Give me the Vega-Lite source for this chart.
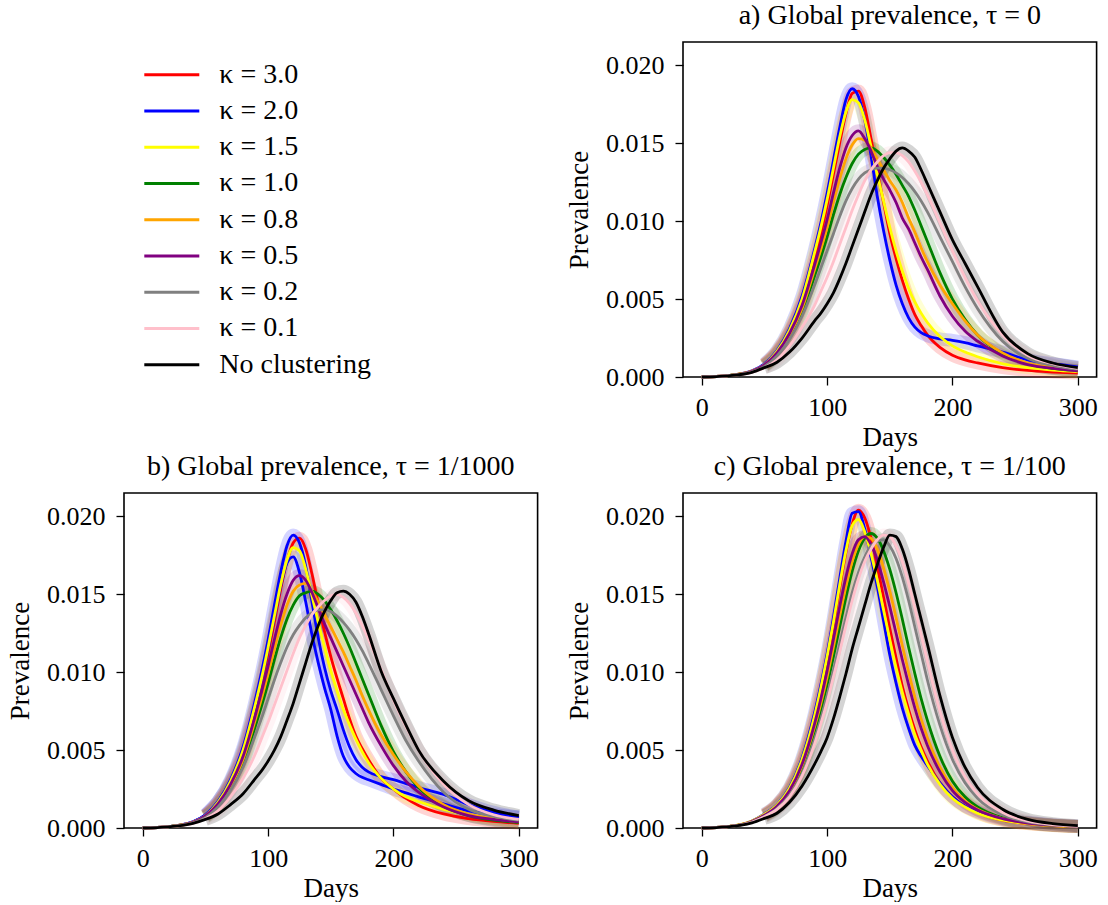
{
"$schema": "https://vega.github.io/schema/vega-lite/v6.json",
"background": "white",
"padding": {"left": 5, "top": 1, "right": 0, "bottom": 0},
"config": {
  "font": "Liberation Serif",
  "view": {"stroke": "black", "strokeWidth": 1.6},
  "axis": {"domain": false, "grid": false, "tickColor": "black", "tickSize": 8, "tickWidth": 1.3, "labelFont": "Liberation Serif", "labelFontSize": 26, "labelColor": "black", "titleFont": "Liberation Serif", "titleFontSize": 27, "titleFontWeight": "normal", "titleColor": "black"},
  "title": {"font": "Liberation Serif", "fontSize": 28, "fontWeight": "normal", "color": "black", "baseline": "alphabetic", "offset": 12}
},
"bounds": "flush",
"columns": 2,
"spacing": {"row": 116, "column": 145},
"datasets": {
"leg": [
{"s":"3.0","lab":"κ = 3.0"},{"s":"2.0","lab":"κ = 2.0"},{"s":"1.5","lab":"κ = 1.5"},{"s":"1.0","lab":"κ = 1.0"},{"s":"0.8","lab":"κ = 0.8"},{"s":"0.5","lab":"κ = 0.5"},{"s":"0.2","lab":"κ = 0.2"},{"s":"0.1","lab":"κ = 0.1"},{"s":"none","lab":"No clustering"}
],
"prev": [
{"p":"a","s":"3.0","d":0,"v":0},{"p":"a","s":"3.0","d":20,"v":0.00008},{"p":"a","s":"3.0","d":40,"v":0.00038},{"p":"a","s":"3.0","d":50,"v":0.0008},{"p":"a","s":"3.0","d":60,"v":0.0016},{"p":"a","s":"3.0","d":70,"v":0.0029},{"p":"a","s":"3.0","d":80,"v":0.0048},{"p":"a","s":"3.0","d":90,"v":0.0076},{"p":"a","s":"3.0","d":95,"v":0.0092},{"p":"a","s":"3.0","d":100,"v":0.011},{"p":"a","s":"3.0","d":105,"v":0.013},{"p":"a","s":"3.0","d":110,"v":0.015},{"p":"a","s":"3.0","d":115,"v":0.0169},{"p":"a","s":"3.0","d":120,"v":0.0182},{"p":"a","s":"3.0","d":125,"v":0.01835},{"p":"a","s":"3.0","d":130,"v":0.0173},{"p":"a","s":"3.0","d":135,"v":0.0153},{"p":"a","s":"3.0","d":140,"v":0.0132},{"p":"a","s":"3.0","d":145,"v":0.0112},{"p":"a","s":"3.0","d":150,"v":0.0092},{"p":"a","s":"3.0","d":155,"v":0.0076},{"p":"a","s":"3.0","d":160,"v":0.0062},{"p":"a","s":"3.0","d":165,"v":0.005},{"p":"a","s":"3.0","d":170,"v":0.004},{"p":"a","s":"3.0","d":175,"v":0.0033},{"p":"a","s":"3.0","d":180,"v":0.0027},{"p":"a","s":"3.0","d":190,"v":0.0019},{"p":"a","s":"3.0","d":200,"v":0.0014},{"p":"a","s":"3.0","d":210,"v":0.0011},{"p":"a","s":"3.0","d":220,"v":0.0009},{"p":"a","s":"3.0","d":240,"v":0.0006},{"p":"a","s":"3.0","d":260,"v":0.00042},{"p":"a","s":"3.0","d":280,"v":0.00032},{"p":"a","s":"3.0","d":300,"v":0.00025},
{"p":"a","s":"2.0","d":0,"v":0},{"p":"a","s":"2.0","d":20,"v":0.00008},{"p":"a","s":"2.0","d":40,"v":0.0004},{"p":"a","s":"2.0","d":50,"v":0.00085},{"p":"a","s":"2.0","d":60,"v":0.0017},{"p":"a","s":"2.0","d":70,"v":0.0031},{"p":"a","s":"2.0","d":80,"v":0.0052},{"p":"a","s":"2.0","d":90,"v":0.0082},{"p":"a","s":"2.0","d":95,"v":0.0099},{"p":"a","s":"2.0","d":100,"v":0.0118},{"p":"a","s":"2.0","d":105,"v":0.0139},{"p":"a","s":"2.0","d":110,"v":0.016},{"p":"a","s":"2.0","d":115,"v":0.0178},{"p":"a","s":"2.0","d":120,"v":0.0185},{"p":"a","s":"2.0","d":125,"v":0.018},{"p":"a","s":"2.0","d":130,"v":0.0165},{"p":"a","s":"2.0","d":135,"v":0.0142},{"p":"a","s":"2.0","d":140,"v":0.0116},{"p":"a","s":"2.0","d":145,"v":0.0094},{"p":"a","s":"2.0","d":150,"v":0.0075},{"p":"a","s":"2.0","d":155,"v":0.0059},{"p":"a","s":"2.0","d":160,"v":0.0047},{"p":"a","s":"2.0","d":165,"v":0.0038},{"p":"a","s":"2.0","d":170,"v":0.0032},{"p":"a","s":"2.0","d":175,"v":0.00285},{"p":"a","s":"2.0","d":180,"v":0.00265},{"p":"a","s":"2.0","d":190,"v":0.00245},{"p":"a","s":"2.0","d":200,"v":0.00235},{"p":"a","s":"2.0","d":210,"v":0.0022},{"p":"a","s":"2.0","d":220,"v":0.002},{"p":"a","s":"2.0","d":240,"v":0.0016},{"p":"a","s":"2.0","d":260,"v":0.0011},{"p":"a","s":"2.0","d":280,"v":0.00085},{"p":"a","s":"2.0","d":300,"v":0.00065},
{"p":"a","s":"1.5","d":0,"v":0},{"p":"a","s":"1.5","d":20,"v":0.00008},{"p":"a","s":"1.5","d":40,"v":0.00038},{"p":"a","s":"1.5","d":50,"v":0.0008},{"p":"a","s":"1.5","d":60,"v":0.00165},{"p":"a","s":"1.5","d":70,"v":0.003},{"p":"a","s":"1.5","d":80,"v":0.005},{"p":"a","s":"1.5","d":90,"v":0.008},{"p":"a","s":"1.5","d":95,"v":0.0096},{"p":"a","s":"1.5","d":100,"v":0.0114},{"p":"a","s":"1.5","d":105,"v":0.0134},{"p":"a","s":"1.5","d":110,"v":0.0154},{"p":"a","s":"1.5","d":115,"v":0.017},{"p":"a","s":"1.5","d":120,"v":0.0178},{"p":"a","s":"1.5","d":125,"v":0.0176},{"p":"a","s":"1.5","d":130,"v":0.0165},{"p":"a","s":"1.5","d":135,"v":0.0148},{"p":"a","s":"1.5","d":140,"v":0.013},{"p":"a","s":"1.5","d":145,"v":0.0113},{"p":"a","s":"1.5","d":150,"v":0.0096},{"p":"a","s":"1.5","d":155,"v":0.0081},{"p":"a","s":"1.5","d":160,"v":0.0068},{"p":"a","s":"1.5","d":165,"v":0.0057},{"p":"a","s":"1.5","d":170,"v":0.0048},{"p":"a","s":"1.5","d":175,"v":0.0041},{"p":"a","s":"1.5","d":180,"v":0.0035},{"p":"a","s":"1.5","d":190,"v":0.0026},{"p":"a","s":"1.5","d":200,"v":0.002},{"p":"a","s":"1.5","d":210,"v":0.0016},{"p":"a","s":"1.5","d":220,"v":0.0013},{"p":"a","s":"1.5","d":240,"v":0.00085},{"p":"a","s":"1.5","d":260,"v":0.0006},{"p":"a","s":"1.5","d":280,"v":0.00045},{"p":"a","s":"1.5","d":300,"v":0.00035},
{"p":"a","s":"1.0","d":0,"v":0},{"p":"a","s":"1.0","d":20,"v":0.00008},{"p":"a","s":"1.0","d":40,"v":0.00035},{"p":"a","s":"1.0","d":50,"v":0.00072},{"p":"a","s":"1.0","d":60,"v":0.00145},{"p":"a","s":"1.0","d":70,"v":0.0026},{"p":"a","s":"1.0","d":80,"v":0.0042},{"p":"a","s":"1.0","d":90,"v":0.0065},{"p":"a","s":"1.0","d":95,"v":0.0077},{"p":"a","s":"1.0","d":100,"v":0.009},{"p":"a","s":"1.0","d":105,"v":0.0104},{"p":"a","s":"1.0","d":110,"v":0.0117},{"p":"a","s":"1.0","d":115,"v":0.0128},{"p":"a","s":"1.0","d":120,"v":0.0137},{"p":"a","s":"1.0","d":125,"v":0.0143},{"p":"a","s":"1.0","d":130,"v":0.0146},{"p":"a","s":"1.0","d":135,"v":0.0147},{"p":"a","s":"1.0","d":140,"v":0.0145},{"p":"a","s":"1.0","d":145,"v":0.0141},{"p":"a","s":"1.0","d":150,"v":0.0136},{"p":"a","s":"1.0","d":155,"v":0.013},{"p":"a","s":"1.0","d":160,"v":0.0123},{"p":"a","s":"1.0","d":165,"v":0.0116},{"p":"a","s":"1.0","d":170,"v":0.0107},{"p":"a","s":"1.0","d":175,"v":0.0097},{"p":"a","s":"1.0","d":180,"v":0.0087},{"p":"a","s":"1.0","d":190,"v":0.0067},{"p":"a","s":"1.0","d":200,"v":0.005},{"p":"a","s":"1.0","d":210,"v":0.0037},{"p":"a","s":"1.0","d":220,"v":0.0027},{"p":"a","s":"1.0","d":240,"v":0.0015},{"p":"a","s":"1.0","d":260,"v":0.00085},{"p":"a","s":"1.0","d":280,"v":0.00055},{"p":"a","s":"1.0","d":300,"v":0.0004},
{"p":"a","s":"0.8","d":0,"v":0},{"p":"a","s":"0.8","d":20,"v":0.00008},{"p":"a","s":"0.8","d":40,"v":0.00036},{"p":"a","s":"0.8","d":50,"v":0.00075},{"p":"a","s":"0.8","d":60,"v":0.0015},{"p":"a","s":"0.8","d":70,"v":0.0027},{"p":"a","s":"0.8","d":80,"v":0.0044},{"p":"a","s":"0.8","d":90,"v":0.0069},{"p":"a","s":"0.8","d":95,"v":0.0082},{"p":"a","s":"0.8","d":100,"v":0.0096},{"p":"a","s":"0.8","d":105,"v":0.0112},{"p":"a","s":"0.8","d":110,"v":0.0127},{"p":"a","s":"0.8","d":115,"v":0.014},{"p":"a","s":"0.8","d":120,"v":0.0149},{"p":"a","s":"0.8","d":125,"v":0.0153},{"p":"a","s":"0.8","d":130,"v":0.0152},{"p":"a","s":"0.8","d":135,"v":0.0147},{"p":"a","s":"0.8","d":140,"v":0.014},{"p":"a","s":"0.8","d":145,"v":0.0133},{"p":"a","s":"0.8","d":150,"v":0.0126},{"p":"a","s":"0.8","d":155,"v":0.012},{"p":"a","s":"0.8","d":160,"v":0.0112},{"p":"a","s":"0.8","d":165,"v":0.0102},{"p":"a","s":"0.8","d":170,"v":0.0093},{"p":"a","s":"0.8","d":175,"v":0.0083},{"p":"a","s":"0.8","d":180,"v":0.0074},{"p":"a","s":"0.8","d":190,"v":0.0059},{"p":"a","s":"0.8","d":200,"v":0.0047},{"p":"a","s":"0.8","d":210,"v":0.0036},{"p":"a","s":"0.8","d":220,"v":0.0027},{"p":"a","s":"0.8","d":240,"v":0.00155},{"p":"a","s":"0.8","d":260,"v":0.0009},{"p":"a","s":"0.8","d":280,"v":0.0006},{"p":"a","s":"0.8","d":300,"v":0.0004},
{"p":"a","s":"0.5","d":0,"v":0},{"p":"a","s":"0.5","d":20,"v":0.00008},{"p":"a","s":"0.5","d":40,"v":0.00037},{"p":"a","s":"0.5","d":50,"v":0.00078},{"p":"a","s":"0.5","d":60,"v":0.00155},{"p":"a","s":"0.5","d":70,"v":0.0028},{"p":"a","s":"0.5","d":80,"v":0.0046},{"p":"a","s":"0.5","d":90,"v":0.0072},{"p":"a","s":"0.5","d":95,"v":0.0086},{"p":"a","s":"0.5","d":100,"v":0.0101},{"p":"a","s":"0.5","d":105,"v":0.0118},{"p":"a","s":"0.5","d":110,"v":0.0134},{"p":"a","s":"0.5","d":115,"v":0.0147},{"p":"a","s":"0.5","d":120,"v":0.0155},{"p":"a","s":"0.5","d":125,"v":0.0158},{"p":"a","s":"0.5","d":130,"v":0.0153},{"p":"a","s":"0.5","d":135,"v":0.0145},{"p":"a","s":"0.5","d":140,"v":0.0135},{"p":"a","s":"0.5","d":145,"v":0.0127},{"p":"a","s":"0.5","d":150,"v":0.012},{"p":"a","s":"0.5","d":155,"v":0.0112},{"p":"a","s":"0.5","d":160,"v":0.0102},{"p":"a","s":"0.5","d":165,"v":0.0095},{"p":"a","s":"0.5","d":170,"v":0.0086},{"p":"a","s":"0.5","d":175,"v":0.0077},{"p":"a","s":"0.5","d":180,"v":0.0069},{"p":"a","s":"0.5","d":190,"v":0.0052},{"p":"a","s":"0.5","d":200,"v":0.0039},{"p":"a","s":"0.5","d":210,"v":0.00295},{"p":"a","s":"0.5","d":220,"v":0.0023},{"p":"a","s":"0.5","d":240,"v":0.00135},{"p":"a","s":"0.5","d":260,"v":0.0008},{"p":"a","s":"0.5","d":280,"v":0.00055},{"p":"a","s":"0.5","d":300,"v":0.0004},
{"p":"a","s":"0.2","d":0,"v":0},{"p":"a","s":"0.2","d":20,"v":0.00008},{"p":"a","s":"0.2","d":40,"v":0.00033},{"p":"a","s":"0.2","d":50,"v":0.00068},{"p":"a","s":"0.2","d":60,"v":0.00135},{"p":"a","s":"0.2","d":70,"v":0.0024},{"p":"a","s":"0.2","d":80,"v":0.0039},{"p":"a","s":"0.2","d":90,"v":0.0059},{"p":"a","s":"0.2","d":95,"v":0.007},{"p":"a","s":"0.2","d":100,"v":0.0081},{"p":"a","s":"0.2","d":105,"v":0.0092},{"p":"a","s":"0.2","d":110,"v":0.0103},{"p":"a","s":"0.2","d":115,"v":0.0113},{"p":"a","s":"0.2","d":120,"v":0.0121},{"p":"a","s":"0.2","d":125,"v":0.0127},{"p":"a","s":"0.2","d":130,"v":0.0131},{"p":"a","s":"0.2","d":135,"v":0.0133},{"p":"a","s":"0.2","d":140,"v":0.0134},{"p":"a","s":"0.2","d":145,"v":0.0134},{"p":"a","s":"0.2","d":150,"v":0.0133},{"p":"a","s":"0.2","d":155,"v":0.0131},{"p":"a","s":"0.2","d":160,"v":0.0128},{"p":"a","s":"0.2","d":165,"v":0.0124},{"p":"a","s":"0.2","d":170,"v":0.0119},{"p":"a","s":"0.2","d":175,"v":0.0113},{"p":"a","s":"0.2","d":180,"v":0.0106},{"p":"a","s":"0.2","d":190,"v":0.009},{"p":"a","s":"0.2","d":200,"v":0.0074},{"p":"a","s":"0.2","d":210,"v":0.0058},{"p":"a","s":"0.2","d":220,"v":0.0044},{"p":"a","s":"0.2","d":240,"v":0.0023},{"p":"a","s":"0.2","d":260,"v":0.0012},{"p":"a","s":"0.2","d":280,"v":0.00075},{"p":"a","s":"0.2","d":300,"v":0.0005},
{"p":"a","s":"0.1","d":0,"v":0},{"p":"a","s":"0.1","d":20,"v":0.00008},{"p":"a","s":"0.1","d":40,"v":0.0003},{"p":"a","s":"0.1","d":50,"v":0.0006},{"p":"a","s":"0.1","d":60,"v":0.0011},{"p":"a","s":"0.1","d":70,"v":0.002},{"p":"a","s":"0.1","d":80,"v":0.0032},{"p":"a","s":"0.1","d":90,"v":0.0046},{"p":"a","s":"0.1","d":95,"v":0.0055},{"p":"a","s":"0.1","d":100,"v":0.0064},{"p":"a","s":"0.1","d":105,"v":0.0074},{"p":"a","s":"0.1","d":110,"v":0.0085},{"p":"a","s":"0.1","d":115,"v":0.0096},{"p":"a","s":"0.1","d":120,"v":0.0107},{"p":"a","s":"0.1","d":125,"v":0.0117},{"p":"a","s":"0.1","d":130,"v":0.0126},{"p":"a","s":"0.1","d":135,"v":0.0133},{"p":"a","s":"0.1","d":140,"v":0.0138},{"p":"a","s":"0.1","d":145,"v":0.0142},{"p":"a","s":"0.1","d":150,"v":0.0144},{"p":"a","s":"0.1","d":155,"v":0.0144},{"p":"a","s":"0.1","d":160,"v":0.0142},{"p":"a","s":"0.1","d":165,"v":0.0138},{"p":"a","s":"0.1","d":170,"v":0.0132},{"p":"a","s":"0.1","d":175,"v":0.0125},{"p":"a","s":"0.1","d":180,"v":0.0117},{"p":"a","s":"0.1","d":190,"v":0.0099},{"p":"a","s":"0.1","d":200,"v":0.0081},{"p":"a","s":"0.1","d":210,"v":0.0064},{"p":"a","s":"0.1","d":220,"v":0.0049},{"p":"a","s":"0.1","d":240,"v":0.0027},{"p":"a","s":"0.1","d":260,"v":0.0014},{"p":"a","s":"0.1","d":280,"v":0.00085},{"p":"a","s":"0.1","d":300,"v":0.00055},
{"p":"a","s":"none","d":0,"v":0},{"p":"a","s":"none","d":20,"v":0.00007},{"p":"a","s":"none","d":40,"v":0.0003},{"p":"a","s":"none","d":50,"v":0.0006},{"p":"a","s":"none","d":60,"v":0.00095},{"p":"a","s":"none","d":70,"v":0.0016},{"p":"a","s":"none","d":80,"v":0.0025},{"p":"a","s":"none","d":90,"v":0.0036},{"p":"a","s":"none","d":95,"v":0.0041},{"p":"a","s":"none","d":100,"v":0.0047},{"p":"a","s":"none","d":105,"v":0.0054},{"p":"a","s":"none","d":110,"v":0.0063},{"p":"a","s":"none","d":115,"v":0.0073},{"p":"a","s":"none","d":120,"v":0.0084},{"p":"a","s":"none","d":125,"v":0.0095},{"p":"a","s":"none","d":130,"v":0.0106},{"p":"a","s":"none","d":135,"v":0.0117},{"p":"a","s":"none","d":140,"v":0.0126},{"p":"a","s":"none","d":145,"v":0.0134},{"p":"a","s":"none","d":150,"v":0.014},{"p":"a","s":"none","d":155,"v":0.0145},{"p":"a","s":"none","d":160,"v":0.0147},{"p":"a","s":"none","d":165,"v":0.0145},{"p":"a","s":"none","d":170,"v":0.0141},{"p":"a","s":"none","d":175,"v":0.0133},{"p":"a","s":"none","d":180,"v":0.0124},{"p":"a","s":"none","d":190,"v":0.0106},{"p":"a","s":"none","d":200,"v":0.0088},{"p":"a","s":"none","d":210,"v":0.0073},{"p":"a","s":"none","d":220,"v":0.0058},{"p":"a","s":"none","d":240,"v":0.0029},{"p":"a","s":"none","d":260,"v":0.0015},{"p":"a","s":"none","d":280,"v":0.0009},{"p":"a","s":"none","d":300,"v":0.0006},
{"p":"b","s":"3.0","d":0,"v":0},{"p":"b","s":"3.0","d":20,"v":0.00008},{"p":"b","s":"3.0","d":40,"v":0.00038},{"p":"b","s":"3.0","d":50,"v":0.0008},{"p":"b","s":"3.0","d":60,"v":0.0016},{"p":"b","s":"3.0","d":70,"v":0.0029},{"p":"b","s":"3.0","d":80,"v":0.0048},{"p":"b","s":"3.0","d":90,"v":0.0077},{"p":"b","s":"3.0","d":95,"v":0.0093},{"p":"b","s":"3.0","d":100,"v":0.0112},{"p":"b","s":"3.0","d":105,"v":0.0132},{"p":"b","s":"3.0","d":110,"v":0.0153},{"p":"b","s":"3.0","d":115,"v":0.0171},{"p":"b","s":"3.0","d":120,"v":0.0183},{"p":"b","s":"3.0","d":125,"v":0.0186},{"p":"b","s":"3.0","d":130,"v":0.0179},{"p":"b","s":"3.0","d":135,"v":0.0163},{"p":"b","s":"3.0","d":140,"v":0.0144},{"p":"b","s":"3.0","d":145,"v":0.0126},{"p":"b","s":"3.0","d":150,"v":0.011},{"p":"b","s":"3.0","d":155,"v":0.0096},{"p":"b","s":"3.0","d":160,"v":0.0083},{"p":"b","s":"3.0","d":165,"v":0.007},{"p":"b","s":"3.0","d":170,"v":0.0059},{"p":"b","s":"3.0","d":175,"v":0.0051},{"p":"b","s":"3.0","d":180,"v":0.0044},{"p":"b","s":"3.0","d":190,"v":0.0032},{"p":"b","s":"3.0","d":200,"v":0.0025},{"p":"b","s":"3.0","d":210,"v":0.0019},{"p":"b","s":"3.0","d":220,"v":0.00145},{"p":"b","s":"3.0","d":240,"v":0.0009},{"p":"b","s":"3.0","d":260,"v":0.0006},{"p":"b","s":"3.0","d":280,"v":0.00042},{"p":"b","s":"3.0","d":300,"v":0.0003},
{"p":"b","s":"2.0","d":0,"v":0},{"p":"b","s":"2.0","d":20,"v":0.00008},{"p":"b","s":"2.0","d":40,"v":0.0004},{"p":"b","s":"2.0","d":50,"v":0.00085},{"p":"b","s":"2.0","d":60,"v":0.0017},{"p":"b","s":"2.0","d":70,"v":0.0031},{"p":"b","s":"2.0","d":80,"v":0.0052},{"p":"b","s":"2.0","d":90,"v":0.0083},{"p":"b","s":"2.0","d":95,"v":0.0101},{"p":"b","s":"2.0","d":100,"v":0.0121},{"p":"b","s":"2.0","d":105,"v":0.0143},{"p":"b","s":"2.0","d":110,"v":0.0164},{"p":"b","s":"2.0","d":115,"v":0.0181},{"p":"b","s":"2.0","d":120,"v":0.0188},{"p":"b","s":"2.0","d":125,"v":0.0183},{"p":"b","s":"2.0","d":130,"v":0.0168},{"p":"b","s":"2.0","d":135,"v":0.0145},{"p":"b","s":"2.0","d":140,"v":0.0122},{"p":"b","s":"2.0","d":145,"v":0.0103},{"p":"b","s":"2.0","d":150,"v":0.0088},{"p":"b","s":"2.0","d":155,"v":0.0076},{"p":"b","s":"2.0","d":160,"v":0.0063},{"p":"b","s":"2.0","d":165,"v":0.0052},{"p":"b","s":"2.0","d":170,"v":0.0044},{"p":"b","s":"2.0","d":175,"v":0.0039},{"p":"b","s":"2.0","d":180,"v":0.0036},{"p":"b","s":"2.0","d":190,"v":0.0033},{"p":"b","s":"2.0","d":200,"v":0.0031},{"p":"b","s":"2.0","d":210,"v":0.00285},{"p":"b","s":"2.0","d":220,"v":0.0026},{"p":"b","s":"2.0","d":240,"v":0.00215},{"p":"b","s":"2.0","d":260,"v":0.0015},{"p":"b","s":"2.0","d":280,"v":0.001},{"p":"b","s":"2.0","d":300,"v":0.0007},
{"p":"b","s":"2.0b","d":0,"v":0},{"p":"b","s":"2.0b","d":20,"v":0.00008},{"p":"b","s":"2.0b","d":40,"v":0.0004},{"p":"b","s":"2.0b","d":50,"v":0.00085},{"p":"b","s":"2.0b","d":60,"v":0.0017},{"p":"b","s":"2.0b","d":70,"v":0.003},{"p":"b","s":"2.0b","d":80,"v":0.005},{"p":"b","s":"2.0b","d":90,"v":0.0079},{"p":"b","s":"2.0b","d":95,"v":0.0096},{"p":"b","s":"2.0b","d":100,"v":0.0115},{"p":"b","s":"2.0b","d":105,"v":0.0135},{"p":"b","s":"2.0b","d":110,"v":0.0155},{"p":"b","s":"2.0b","d":115,"v":0.017},{"p":"b","s":"2.0b","d":120,"v":0.0174},{"p":"b","s":"2.0b","d":125,"v":0.0164},{"p":"b","s":"2.0b","d":130,"v":0.0145},{"p":"b","s":"2.0b","d":135,"v":0.0124},{"p":"b","s":"2.0b","d":140,"v":0.0106},{"p":"b","s":"2.0b","d":145,"v":0.009},{"p":"b","s":"2.0b","d":150,"v":0.0076},{"p":"b","s":"2.0b","d":155,"v":0.0059},{"p":"b","s":"2.0b","d":160,"v":0.0046},{"p":"b","s":"2.0b","d":165,"v":0.0039},{"p":"b","s":"2.0b","d":170,"v":0.0035},{"p":"b","s":"2.0b","d":175,"v":0.00325},{"p":"b","s":"2.0b","d":180,"v":0.0031},{"p":"b","s":"2.0b","d":190,"v":0.0028},{"p":"b","s":"2.0b","d":200,"v":0.0025},{"p":"b","s":"2.0b","d":210,"v":0.00225},{"p":"b","s":"2.0b","d":220,"v":0.002},{"p":"b","s":"2.0b","d":240,"v":0.00155},{"p":"b","s":"2.0b","d":260,"v":0.0011},{"p":"b","s":"2.0b","d":280,"v":0.00085},{"p":"b","s":"2.0b","d":300,"v":0.0007},
{"p":"b","s":"1.5","d":0,"v":0},{"p":"b","s":"1.5","d":20,"v":0.00008},{"p":"b","s":"1.5","d":40,"v":0.00038},{"p":"b","s":"1.5","d":50,"v":0.0008},{"p":"b","s":"1.5","d":60,"v":0.00165},{"p":"b","s":"1.5","d":70,"v":0.003},{"p":"b","s":"1.5","d":80,"v":0.005},{"p":"b","s":"1.5","d":90,"v":0.008},{"p":"b","s":"1.5","d":95,"v":0.0097},{"p":"b","s":"1.5","d":100,"v":0.0116},{"p":"b","s":"1.5","d":105,"v":0.0136},{"p":"b","s":"1.5","d":110,"v":0.0156},{"p":"b","s":"1.5","d":115,"v":0.0172},{"p":"b","s":"1.5","d":120,"v":0.018},{"p":"b","s":"1.5","d":125,"v":0.0178},{"p":"b","s":"1.5","d":130,"v":0.0166},{"p":"b","s":"1.5","d":135,"v":0.0149},{"p":"b","s":"1.5","d":140,"v":0.0132},{"p":"b","s":"1.5","d":145,"v":0.0116},{"p":"b","s":"1.5","d":150,"v":0.0101},{"p":"b","s":"1.5","d":155,"v":0.0088},{"p":"b","s":"1.5","d":160,"v":0.0076},{"p":"b","s":"1.5","d":165,"v":0.0066},{"p":"b","s":"1.5","d":170,"v":0.0057},{"p":"b","s":"1.5","d":175,"v":0.0049},{"p":"b","s":"1.5","d":180,"v":0.0042},{"p":"b","s":"1.5","d":190,"v":0.0032},{"p":"b","s":"1.5","d":200,"v":0.0025},{"p":"b","s":"1.5","d":210,"v":0.002},{"p":"b","s":"1.5","d":220,"v":0.0017},{"p":"b","s":"1.5","d":240,"v":0.0012},{"p":"b","s":"1.5","d":260,"v":0.00085},{"p":"b","s":"1.5","d":280,"v":0.0006},{"p":"b","s":"1.5","d":300,"v":0.00045},
{"p":"b","s":"1.0","d":0,"v":0},{"p":"b","s":"1.0","d":20,"v":0.00008},{"p":"b","s":"1.0","d":40,"v":0.00035},{"p":"b","s":"1.0","d":50,"v":0.00072},{"p":"b","s":"1.0","d":60,"v":0.00145},{"p":"b","s":"1.0","d":70,"v":0.0026},{"p":"b","s":"1.0","d":80,"v":0.0042},{"p":"b","s":"1.0","d":90,"v":0.0066},{"p":"b","s":"1.0","d":95,"v":0.0079},{"p":"b","s":"1.0","d":100,"v":0.0093},{"p":"b","s":"1.0","d":105,"v":0.0108},{"p":"b","s":"1.0","d":110,"v":0.0122},{"p":"b","s":"1.0","d":115,"v":0.0134},{"p":"b","s":"1.0","d":120,"v":0.0143},{"p":"b","s":"1.0","d":125,"v":0.0149},{"p":"b","s":"1.0","d":130,"v":0.0151},{"p":"b","s":"1.0","d":135,"v":0.0152},{"p":"b","s":"1.0","d":140,"v":0.015},{"p":"b","s":"1.0","d":145,"v":0.0146},{"p":"b","s":"1.0","d":150,"v":0.014},{"p":"b","s":"1.0","d":155,"v":0.0133},{"p":"b","s":"1.0","d":160,"v":0.0125},{"p":"b","s":"1.0","d":165,"v":0.0116},{"p":"b","s":"1.0","d":170,"v":0.0106},{"p":"b","s":"1.0","d":175,"v":0.0096},{"p":"b","s":"1.0","d":180,"v":0.0086},{"p":"b","s":"1.0","d":190,"v":0.0066},{"p":"b","s":"1.0","d":200,"v":0.0049},{"p":"b","s":"1.0","d":210,"v":0.0036},{"p":"b","s":"1.0","d":220,"v":0.0026},{"p":"b","s":"1.0","d":240,"v":0.0014},{"p":"b","s":"1.0","d":260,"v":0.0008},{"p":"b","s":"1.0","d":280,"v":0.0005},{"p":"b","s":"1.0","d":300,"v":0.00035},
{"p":"b","s":"0.8","d":0,"v":0},{"p":"b","s":"0.8","d":20,"v":0.00008},{"p":"b","s":"0.8","d":40,"v":0.00036},{"p":"b","s":"0.8","d":50,"v":0.00075},{"p":"b","s":"0.8","d":60,"v":0.0015},{"p":"b","s":"0.8","d":70,"v":0.0027},{"p":"b","s":"0.8","d":80,"v":0.0044},{"p":"b","s":"0.8","d":90,"v":0.007},{"p":"b","s":"0.8","d":95,"v":0.0084},{"p":"b","s":"0.8","d":100,"v":0.0099},{"p":"b","s":"0.8","d":105,"v":0.0115},{"p":"b","s":"0.8","d":110,"v":0.013},{"p":"b","s":"0.8","d":115,"v":0.0143},{"p":"b","s":"0.8","d":120,"v":0.0152},{"p":"b","s":"0.8","d":125,"v":0.0156},{"p":"b","s":"0.8","d":130,"v":0.0157},{"p":"b","s":"0.8","d":135,"v":0.0152},{"p":"b","s":"0.8","d":140,"v":0.0145},{"p":"b","s":"0.8","d":145,"v":0.0137},{"p":"b","s":"0.8","d":150,"v":0.0129},{"p":"b","s":"0.8","d":155,"v":0.0121},{"p":"b","s":"0.8","d":160,"v":0.0113},{"p":"b","s":"0.8","d":165,"v":0.0104},{"p":"b","s":"0.8","d":170,"v":0.0095},{"p":"b","s":"0.8","d":175,"v":0.0085},{"p":"b","s":"0.8","d":180,"v":0.0076},{"p":"b","s":"0.8","d":190,"v":0.006},{"p":"b","s":"0.8","d":200,"v":0.0047},{"p":"b","s":"0.8","d":210,"v":0.0036},{"p":"b","s":"0.8","d":220,"v":0.0027},{"p":"b","s":"0.8","d":240,"v":0.0015},{"p":"b","s":"0.8","d":260,"v":0.0009},{"p":"b","s":"0.8","d":280,"v":0.0006},{"p":"b","s":"0.8","d":300,"v":0.0004},
{"p":"b","s":"0.5","d":0,"v":0},{"p":"b","s":"0.5","d":20,"v":0.00008},{"p":"b","s":"0.5","d":40,"v":0.00037},{"p":"b","s":"0.5","d":50,"v":0.00078},{"p":"b","s":"0.5","d":60,"v":0.00155},{"p":"b","s":"0.5","d":70,"v":0.0028},{"p":"b","s":"0.5","d":80,"v":0.0046},{"p":"b","s":"0.5","d":90,"v":0.0073},{"p":"b","s":"0.5","d":95,"v":0.0088},{"p":"b","s":"0.5","d":100,"v":0.0104},{"p":"b","s":"0.5","d":105,"v":0.0121},{"p":"b","s":"0.5","d":110,"v":0.0137},{"p":"b","s":"0.5","d":115,"v":0.015},{"p":"b","s":"0.5","d":120,"v":0.0159},{"p":"b","s":"0.5","d":125,"v":0.0162},{"p":"b","s":"0.5","d":130,"v":0.0159},{"p":"b","s":"0.5","d":135,"v":0.0151},{"p":"b","s":"0.5","d":140,"v":0.0141},{"p":"b","s":"0.5","d":145,"v":0.0131},{"p":"b","s":"0.5","d":150,"v":0.0122},{"p":"b","s":"0.5","d":155,"v":0.0113},{"p":"b","s":"0.5","d":160,"v":0.0104},{"p":"b","s":"0.5","d":165,"v":0.0095},{"p":"b","s":"0.5","d":170,"v":0.0086},{"p":"b","s":"0.5","d":175,"v":0.0077},{"p":"b","s":"0.5","d":180,"v":0.0068},{"p":"b","s":"0.5","d":190,"v":0.0053},{"p":"b","s":"0.5","d":200,"v":0.004},{"p":"b","s":"0.5","d":210,"v":0.003},{"p":"b","s":"0.5","d":220,"v":0.0023},{"p":"b","s":"0.5","d":240,"v":0.00135},{"p":"b","s":"0.5","d":260,"v":0.0008},{"p":"b","s":"0.5","d":280,"v":0.00055},{"p":"b","s":"0.5","d":300,"v":0.0004},
{"p":"b","s":"0.2","d":0,"v":0},{"p":"b","s":"0.2","d":20,"v":0.00008},{"p":"b","s":"0.2","d":40,"v":0.00033},{"p":"b","s":"0.2","d":50,"v":0.00068},{"p":"b","s":"0.2","d":60,"v":0.00135},{"p":"b","s":"0.2","d":70,"v":0.0024},{"p":"b","s":"0.2","d":80,"v":0.0039},{"p":"b","s":"0.2","d":90,"v":0.006},{"p":"b","s":"0.2","d":95,"v":0.0071},{"p":"b","s":"0.2","d":100,"v":0.0083},{"p":"b","s":"0.2","d":105,"v":0.0095},{"p":"b","s":"0.2","d":110,"v":0.0106},{"p":"b","s":"0.2","d":115,"v":0.0116},{"p":"b","s":"0.2","d":120,"v":0.0124},{"p":"b","s":"0.2","d":125,"v":0.013},{"p":"b","s":"0.2","d":130,"v":0.0135},{"p":"b","s":"0.2","d":135,"v":0.0138},{"p":"b","s":"0.2","d":140,"v":0.014},{"p":"b","s":"0.2","d":145,"v":0.014},{"p":"b","s":"0.2","d":150,"v":0.0139},{"p":"b","s":"0.2","d":155,"v":0.0136},{"p":"b","s":"0.2","d":160,"v":0.0132},{"p":"b","s":"0.2","d":165,"v":0.0127},{"p":"b","s":"0.2","d":170,"v":0.0121},{"p":"b","s":"0.2","d":175,"v":0.0114},{"p":"b","s":"0.2","d":180,"v":0.0106},{"p":"b","s":"0.2","d":190,"v":0.0089},{"p":"b","s":"0.2","d":200,"v":0.0072},{"p":"b","s":"0.2","d":210,"v":0.0056},{"p":"b","s":"0.2","d":220,"v":0.0043},{"p":"b","s":"0.2","d":240,"v":0.0023},{"p":"b","s":"0.2","d":260,"v":0.0012},{"p":"b","s":"0.2","d":280,"v":0.00075},{"p":"b","s":"0.2","d":300,"v":0.0005},
{"p":"b","s":"0.1","d":0,"v":0},{"p":"b","s":"0.1","d":20,"v":0.00008},{"p":"b","s":"0.1","d":40,"v":0.0003},{"p":"b","s":"0.1","d":50,"v":0.0006},{"p":"b","s":"0.1","d":60,"v":0.0011},{"p":"b","s":"0.1","d":70,"v":0.002},{"p":"b","s":"0.1","d":80,"v":0.0032},{"p":"b","s":"0.1","d":90,"v":0.0048},{"p":"b","s":"0.1","d":95,"v":0.0058},{"p":"b","s":"0.1","d":100,"v":0.0068},{"p":"b","s":"0.1","d":105,"v":0.0079},{"p":"b","s":"0.1","d":110,"v":0.009},{"p":"b","s":"0.1","d":115,"v":0.0101},{"p":"b","s":"0.1","d":120,"v":0.0112},{"p":"b","s":"0.1","d":125,"v":0.0122},{"p":"b","s":"0.1","d":130,"v":0.013},{"p":"b","s":"0.1","d":135,"v":0.0137},{"p":"b","s":"0.1","d":140,"v":0.0142},{"p":"b","s":"0.1","d":145,"v":0.0146},{"p":"b","s":"0.1","d":150,"v":0.0149},{"p":"b","s":"0.1","d":155,"v":0.015},{"p":"b","s":"0.1","d":160,"v":0.0148},{"p":"b","s":"0.1","d":165,"v":0.0144},{"p":"b","s":"0.1","d":170,"v":0.0138},{"p":"b","s":"0.1","d":175,"v":0.013},{"p":"b","s":"0.1","d":180,"v":0.0121},{"p":"b","s":"0.1","d":190,"v":0.0102},{"p":"b","s":"0.1","d":200,"v":0.0082},{"p":"b","s":"0.1","d":210,"v":0.0065},{"p":"b","s":"0.1","d":220,"v":0.005},{"p":"b","s":"0.1","d":240,"v":0.0028},{"p":"b","s":"0.1","d":260,"v":0.0015},{"p":"b","s":"0.1","d":280,"v":0.00085},{"p":"b","s":"0.1","d":300,"v":0.00055},
{"p":"b","s":"none","d":0,"v":0},{"p":"b","s":"none","d":20,"v":0.00007},{"p":"b","s":"none","d":40,"v":0.0003},{"p":"b","s":"none","d":50,"v":0.00055},{"p":"b","s":"none","d":60,"v":0.0009},{"p":"b","s":"none","d":70,"v":0.0015},{"p":"b","s":"none","d":80,"v":0.0022},{"p":"b","s":"none","d":90,"v":0.0032},{"p":"b","s":"none","d":95,"v":0.0037},{"p":"b","s":"none","d":100,"v":0.0043},{"p":"b","s":"none","d":105,"v":0.005},{"p":"b","s":"none","d":110,"v":0.00585},{"p":"b","s":"none","d":115,"v":0.0069},{"p":"b","s":"none","d":120,"v":0.008},{"p":"b","s":"none","d":125,"v":0.0093},{"p":"b","s":"none","d":130,"v":0.0106},{"p":"b","s":"none","d":135,"v":0.0119},{"p":"b","s":"none","d":140,"v":0.013},{"p":"b","s":"none","d":145,"v":0.0139},{"p":"b","s":"none","d":150,"v":0.0146},{"p":"b","s":"none","d":155,"v":0.0151},{"p":"b","s":"none","d":160,"v":0.0152},{"p":"b","s":"none","d":165,"v":0.015},{"p":"b","s":"none","d":170,"v":0.0145},{"p":"b","s":"none","d":175,"v":0.0136},{"p":"b","s":"none","d":180,"v":0.0125},{"p":"b","s":"none","d":190,"v":0.0101},{"p":"b","s":"none","d":200,"v":0.0083},{"p":"b","s":"none","d":210,"v":0.0066},{"p":"b","s":"none","d":220,"v":0.005},{"p":"b","s":"none","d":240,"v":0.003},{"p":"b","s":"none","d":260,"v":0.00175},{"p":"b","s":"none","d":280,"v":0.00115},{"p":"b","s":"none","d":300,"v":0.0008},
{"p":"c","s":"3.0","d":0,"v":0},{"p":"c","s":"3.0","d":20,"v":0.00008},{"p":"c","s":"3.0","d":40,"v":0.00043},{"p":"c","s":"3.0","d":50,"v":0.00085},{"p":"c","s":"3.0","d":60,"v":0.00145},{"p":"c","s":"3.0","d":70,"v":0.0025},{"p":"c","s":"3.0","d":80,"v":0.0043},{"p":"c","s":"3.0","d":90,"v":0.0071},{"p":"c","s":"3.0","d":95,"v":0.0088},{"p":"c","s":"3.0","d":100,"v":0.0108},{"p":"c","s":"3.0","d":105,"v":0.013},{"p":"c","s":"3.0","d":110,"v":0.0154},{"p":"c","s":"3.0","d":115,"v":0.0177},{"p":"c","s":"3.0","d":120,"v":0.0195},{"p":"c","s":"3.0","d":125,"v":0.0204},{"p":"c","s":"3.0","d":130,"v":0.0199},{"p":"c","s":"3.0","d":135,"v":0.0186},{"p":"c","s":"3.0","d":140,"v":0.0168},{"p":"c","s":"3.0","d":145,"v":0.0148},{"p":"c","s":"3.0","d":150,"v":0.0128},{"p":"c","s":"3.0","d":155,"v":0.0109},{"p":"c","s":"3.0","d":160,"v":0.0091},{"p":"c","s":"3.0","d":165,"v":0.0076},{"p":"c","s":"3.0","d":170,"v":0.0063},{"p":"c","s":"3.0","d":175,"v":0.0052},{"p":"c","s":"3.0","d":180,"v":0.0043},{"p":"c","s":"3.0","d":190,"v":0.0029},{"p":"c","s":"3.0","d":200,"v":0.002},{"p":"c","s":"3.0","d":210,"v":0.0014},{"p":"c","s":"3.0","d":220,"v":0.001},{"p":"c","s":"3.0","d":240,"v":0.0005},{"p":"c","s":"3.0","d":260,"v":0.00028},{"p":"c","s":"3.0","d":280,"v":0.00016},{"p":"c","s":"3.0","d":300,"v":0.0001},
{"p":"c","s":"2.0","d":0,"v":0},{"p":"c","s":"2.0","d":20,"v":0.00008},{"p":"c","s":"2.0","d":40,"v":0.00045},{"p":"c","s":"2.0","d":50,"v":0.0009},{"p":"c","s":"2.0","d":60,"v":0.0015},{"p":"c","s":"2.0","d":70,"v":0.0026},{"p":"c","s":"2.0","d":80,"v":0.0045},{"p":"c","s":"2.0","d":90,"v":0.0074},{"p":"c","s":"2.0","d":95,"v":0.0092},{"p":"c","s":"2.0","d":100,"v":0.0112},{"p":"c","s":"2.0","d":105,"v":0.0135},{"p":"c","s":"2.0","d":110,"v":0.016},{"p":"c","s":"2.0","d":115,"v":0.0184},{"p":"c","s":"2.0","d":120,"v":0.0202},{"p":"c","s":"2.0","d":125,"v":0.0203},{"p":"c","s":"2.0","d":130,"v":0.0192},{"p":"c","s":"2.0","d":135,"v":0.0174},{"p":"c","s":"2.0","d":140,"v":0.0155},{"p":"c","s":"2.0","d":145,"v":0.0133},{"p":"c","s":"2.0","d":150,"v":0.0111},{"p":"c","s":"2.0","d":155,"v":0.0093},{"p":"c","s":"2.0","d":160,"v":0.0077},{"p":"c","s":"2.0","d":165,"v":0.0064},{"p":"c","s":"2.0","d":170,"v":0.0053},{"p":"c","s":"2.0","d":175,"v":0.0046},{"p":"c","s":"2.0","d":180,"v":0.004},{"p":"c","s":"2.0","d":190,"v":0.0029},{"p":"c","s":"2.0","d":200,"v":0.002},{"p":"c","s":"2.0","d":210,"v":0.0014},{"p":"c","s":"2.0","d":220,"v":0.00105},{"p":"c","s":"2.0","d":240,"v":0.00055},{"p":"c","s":"2.0","d":260,"v":0.00035},{"p":"c","s":"2.0","d":280,"v":0.0002},{"p":"c","s":"2.0","d":300,"v":0.00012},
{"p":"c","s":"1.5","d":0,"v":0},{"p":"c","s":"1.5","d":20,"v":0.00008},{"p":"c","s":"1.5","d":40,"v":0.00044},{"p":"c","s":"1.5","d":50,"v":0.00088},{"p":"c","s":"1.5","d":60,"v":0.00148},{"p":"c","s":"1.5","d":70,"v":0.00255},{"p":"c","s":"1.5","d":80,"v":0.0044},{"p":"c","s":"1.5","d":90,"v":0.0072},{"p":"c","s":"1.5","d":95,"v":0.009},{"p":"c","s":"1.5","d":100,"v":0.011},{"p":"c","s":"1.5","d":105,"v":0.0132},{"p":"c","s":"1.5","d":110,"v":0.0156},{"p":"c","s":"1.5","d":115,"v":0.0178},{"p":"c","s":"1.5","d":120,"v":0.0194},{"p":"c","s":"1.5","d":125,"v":0.0198},{"p":"c","s":"1.5","d":130,"v":0.019},{"p":"c","s":"1.5","d":135,"v":0.0176},{"p":"c","s":"1.5","d":140,"v":0.0159},{"p":"c","s":"1.5","d":145,"v":0.014},{"p":"c","s":"1.5","d":150,"v":0.0121},{"p":"c","s":"1.5","d":155,"v":0.0103},{"p":"c","s":"1.5","d":160,"v":0.0087},{"p":"c","s":"1.5","d":165,"v":0.0073},{"p":"c","s":"1.5","d":170,"v":0.006},{"p":"c","s":"1.5","d":175,"v":0.005},{"p":"c","s":"1.5","d":180,"v":0.0041},{"p":"c","s":"1.5","d":190,"v":0.0028},{"p":"c","s":"1.5","d":200,"v":0.0019},{"p":"c","s":"1.5","d":210,"v":0.00135},{"p":"c","s":"1.5","d":220,"v":0.00095},{"p":"c","s":"1.5","d":240,"v":0.0005},{"p":"c","s":"1.5","d":260,"v":0.00028},{"p":"c","s":"1.5","d":280,"v":0.00016},{"p":"c","s":"1.5","d":300,"v":0.0001},
{"p":"c","s":"1.0","d":0,"v":0},{"p":"c","s":"1.0","d":20,"v":0.00008},{"p":"c","s":"1.0","d":40,"v":0.0004},{"p":"c","s":"1.0","d":50,"v":0.00078},{"p":"c","s":"1.0","d":60,"v":0.00132},{"p":"c","s":"1.0","d":70,"v":0.00225},{"p":"c","s":"1.0","d":80,"v":0.0038},{"p":"c","s":"1.0","d":90,"v":0.0062},{"p":"c","s":"1.0","d":95,"v":0.0076},{"p":"c","s":"1.0","d":100,"v":0.0092},{"p":"c","s":"1.0","d":105,"v":0.011},{"p":"c","s":"1.0","d":110,"v":0.0129},{"p":"c","s":"1.0","d":115,"v":0.0148},{"p":"c","s":"1.0","d":120,"v":0.0165},{"p":"c","s":"1.0","d":125,"v":0.0178},{"p":"c","s":"1.0","d":130,"v":0.0186},{"p":"c","s":"1.0","d":135,"v":0.0189},{"p":"c","s":"1.0","d":140,"v":0.0186},{"p":"c","s":"1.0","d":145,"v":0.0178},{"p":"c","s":"1.0","d":150,"v":0.0166},{"p":"c","s":"1.0","d":155,"v":0.0151},{"p":"c","s":"1.0","d":160,"v":0.0134},{"p":"c","s":"1.0","d":165,"v":0.0116},{"p":"c","s":"1.0","d":170,"v":0.0099},{"p":"c","s":"1.0","d":175,"v":0.0083},{"p":"c","s":"1.0","d":180,"v":0.0069},{"p":"c","s":"1.0","d":190,"v":0.0046},{"p":"c","s":"1.0","d":200,"v":0.003},{"p":"c","s":"1.0","d":210,"v":0.002},{"p":"c","s":"1.0","d":220,"v":0.00135},{"p":"c","s":"1.0","d":240,"v":0.00065},{"p":"c","s":"1.0","d":260,"v":0.00033},{"p":"c","s":"1.0","d":280,"v":0.00018},{"p":"c","s":"1.0","d":300,"v":0.0001},
{"p":"c","s":"0.8","d":0,"v":0},{"p":"c","s":"0.8","d":20,"v":0.00008},{"p":"c","s":"0.8","d":40,"v":0.00042},{"p":"c","s":"0.8","d":50,"v":0.0008},{"p":"c","s":"0.8","d":60,"v":0.00138},{"p":"c","s":"0.8","d":70,"v":0.00235},{"p":"c","s":"0.8","d":80,"v":0.004},{"p":"c","s":"0.8","d":90,"v":0.0065},{"p":"c","s":"0.8","d":95,"v":0.008},{"p":"c","s":"0.8","d":100,"v":0.0097},{"p":"c","s":"0.8","d":105,"v":0.0116},{"p":"c","s":"0.8","d":110,"v":0.0136},{"p":"c","s":"0.8","d":115,"v":0.0155},{"p":"c","s":"0.8","d":120,"v":0.0171},{"p":"c","s":"0.8","d":125,"v":0.0182},{"p":"c","s":"0.8","d":130,"v":0.0187},{"p":"c","s":"0.8","d":135,"v":0.0186},{"p":"c","s":"0.8","d":140,"v":0.0179},{"p":"c","s":"0.8","d":145,"v":0.0167},{"p":"c","s":"0.8","d":150,"v":0.0152},{"p":"c","s":"0.8","d":155,"v":0.0135},{"p":"c","s":"0.8","d":160,"v":0.0117},{"p":"c","s":"0.8","d":165,"v":0.01},{"p":"c","s":"0.8","d":170,"v":0.0084},{"p":"c","s":"0.8","d":175,"v":0.007},{"p":"c","s":"0.8","d":180,"v":0.0058},{"p":"c","s":"0.8","d":190,"v":0.0039},{"p":"c","s":"0.8","d":200,"v":0.0026},{"p":"c","s":"0.8","d":210,"v":0.00175},{"p":"c","s":"0.8","d":220,"v":0.0012},{"p":"c","s":"0.8","d":240,"v":0.0006},{"p":"c","s":"0.8","d":260,"v":0.00032},{"p":"c","s":"0.8","d":280,"v":0.00018},{"p":"c","s":"0.8","d":300,"v":0.0001},
{"p":"c","s":"0.5","d":0,"v":0},{"p":"c","s":"0.5","d":20,"v":0.00008},{"p":"c","s":"0.5","d":40,"v":0.00042},{"p":"c","s":"0.5","d":50,"v":0.00082},{"p":"c","s":"0.5","d":60,"v":0.0014},{"p":"c","s":"0.5","d":70,"v":0.0024},{"p":"c","s":"0.5","d":80,"v":0.0041},{"p":"c","s":"0.5","d":90,"v":0.0067},{"p":"c","s":"0.5","d":95,"v":0.0083},{"p":"c","s":"0.5","d":100,"v":0.0101},{"p":"c","s":"0.5","d":105,"v":0.0121},{"p":"c","s":"0.5","d":110,"v":0.0142},{"p":"c","s":"0.5","d":115,"v":0.0161},{"p":"c","s":"0.5","d":120,"v":0.0176},{"p":"c","s":"0.5","d":125,"v":0.0185},{"p":"c","s":"0.5","d":130,"v":0.0187},{"p":"c","s":"0.5","d":135,"v":0.0182},{"p":"c","s":"0.5","d":140,"v":0.0172},{"p":"c","s":"0.5","d":145,"v":0.0158},{"p":"c","s":"0.5","d":150,"v":0.0142},{"p":"c","s":"0.5","d":155,"v":0.0125},{"p":"c","s":"0.5","d":160,"v":0.0108},{"p":"c","s":"0.5","d":165,"v":0.0092},{"p":"c","s":"0.5","d":170,"v":0.0077},{"p":"c","s":"0.5","d":175,"v":0.0064},{"p":"c","s":"0.5","d":180,"v":0.0053},{"p":"c","s":"0.5","d":190,"v":0.0036},{"p":"c","s":"0.5","d":200,"v":0.0024},{"p":"c","s":"0.5","d":210,"v":0.00165},{"p":"c","s":"0.5","d":220,"v":0.00115},{"p":"c","s":"0.5","d":240,"v":0.0006},{"p":"c","s":"0.5","d":260,"v":0.00032},{"p":"c","s":"0.5","d":280,"v":0.00018},{"p":"c","s":"0.5","d":300,"v":0.0001},
{"p":"c","s":"0.2","d":0,"v":0},{"p":"c","s":"0.2","d":20,"v":0.00008},{"p":"c","s":"0.2","d":40,"v":0.00038},{"p":"c","s":"0.2","d":50,"v":0.00074},{"p":"c","s":"0.2","d":60,"v":0.00125},{"p":"c","s":"0.2","d":70,"v":0.0021},{"p":"c","s":"0.2","d":80,"v":0.0035},{"p":"c","s":"0.2","d":90,"v":0.0057},{"p":"c","s":"0.2","d":95,"v":0.007},{"p":"c","s":"0.2","d":100,"v":0.0085},{"p":"c","s":"0.2","d":105,"v":0.0101},{"p":"c","s":"0.2","d":110,"v":0.0118},{"p":"c","s":"0.2","d":115,"v":0.0135},{"p":"c","s":"0.2","d":120,"v":0.0151},{"p":"c","s":"0.2","d":125,"v":0.0164},{"p":"c","s":"0.2","d":130,"v":0.0174},{"p":"c","s":"0.2","d":135,"v":0.0181},{"p":"c","s":"0.2","d":140,"v":0.0184},{"p":"c","s":"0.2","d":145,"v":0.0185},{"p":"c","s":"0.2","d":150,"v":0.0181},{"p":"c","s":"0.2","d":155,"v":0.0173},{"p":"c","s":"0.2","d":160,"v":0.0161},{"p":"c","s":"0.2","d":165,"v":0.0146},{"p":"c","s":"0.2","d":170,"v":0.0129},{"p":"c","s":"0.2","d":175,"v":0.0112},{"p":"c","s":"0.2","d":180,"v":0.0095},{"p":"c","s":"0.2","d":190,"v":0.0066},{"p":"c","s":"0.2","d":200,"v":0.0044},{"p":"c","s":"0.2","d":210,"v":0.0029},{"p":"c","s":"0.2","d":220,"v":0.0019},{"p":"c","s":"0.2","d":240,"v":0.00085},{"p":"c","s":"0.2","d":260,"v":0.0004},{"p":"c","s":"0.2","d":280,"v":0.0002},{"p":"c","s":"0.2","d":300,"v":0.00012},
{"p":"c","s":"0.1","d":0,"v":0},{"p":"c","s":"0.1","d":20,"v":0.00008},{"p":"c","s":"0.1","d":40,"v":0.00037},{"p":"c","s":"0.1","d":50,"v":0.00072},{"p":"c","s":"0.1","d":60,"v":0.0012},{"p":"c","s":"0.1","d":70,"v":0.002},{"p":"c","s":"0.1","d":80,"v":0.00335},{"p":"c","s":"0.1","d":90,"v":0.0054},{"p":"c","s":"0.1","d":95,"v":0.0067},{"p":"c","s":"0.1","d":100,"v":0.0081},{"p":"c","s":"0.1","d":105,"v":0.0097},{"p":"c","s":"0.1","d":110,"v":0.0113},{"p":"c","s":"0.1","d":115,"v":0.013},{"p":"c","s":"0.1","d":120,"v":0.0146},{"p":"c","s":"0.1","d":125,"v":0.016},{"p":"c","s":"0.1","d":130,"v":0.0171},{"p":"c","s":"0.1","d":135,"v":0.0179},{"p":"c","s":"0.1","d":140,"v":0.0185},{"p":"c","s":"0.1","d":145,"v":0.0188},{"p":"c","s":"0.1","d":150,"v":0.0187},{"p":"c","s":"0.1","d":155,"v":0.0181},{"p":"c","s":"0.1","d":160,"v":0.0171},{"p":"c","s":"0.1","d":165,"v":0.0157},{"p":"c","s":"0.1","d":170,"v":0.0141},{"p":"c","s":"0.1","d":175,"v":0.0124},{"p":"c","s":"0.1","d":180,"v":0.0107},{"p":"c","s":"0.1","d":190,"v":0.0075},{"p":"c","s":"0.1","d":200,"v":0.005},{"p":"c","s":"0.1","d":210,"v":0.0033},{"p":"c","s":"0.1","d":220,"v":0.0022},{"p":"c","s":"0.1","d":240,"v":0.001},{"p":"c","s":"0.1","d":260,"v":0.00045},{"p":"c","s":"0.1","d":280,"v":0.00022},{"p":"c","s":"0.1","d":300,"v":0.00012},
{"p":"c","s":"none","d":0,"v":0},{"p":"c","s":"none","d":20,"v":0.00007},{"p":"c","s":"none","d":40,"v":0.00033},{"p":"c","s":"none","d":50,"v":0.00062},{"p":"c","s":"none","d":60,"v":0.00095},{"p":"c","s":"none","d":70,"v":0.00165},{"p":"c","s":"none","d":80,"v":0.0027},{"p":"c","s":"none","d":90,"v":0.0041},{"p":"c","s":"none","d":95,"v":0.0049},{"p":"c","s":"none","d":100,"v":0.0058},{"p":"c","s":"none","d":105,"v":0.007},{"p":"c","s":"none","d":110,"v":0.0084},{"p":"c","s":"none","d":115,"v":0.0099},{"p":"c","s":"none","d":120,"v":0.0115},{"p":"c","s":"none","d":125,"v":0.0129},{"p":"c","s":"none","d":130,"v":0.0143},{"p":"c","s":"none","d":135,"v":0.0157},{"p":"c","s":"none","d":140,"v":0.0169},{"p":"c","s":"none","d":145,"v":0.018},{"p":"c","s":"none","d":150,"v":0.0188},{"p":"c","s":"none","d":155,"v":0.0187},{"p":"c","s":"none","d":160,"v":0.0179},{"p":"c","s":"none","d":165,"v":0.0166},{"p":"c","s":"none","d":170,"v":0.015},{"p":"c","s":"none","d":175,"v":0.0134},{"p":"c","s":"none","d":180,"v":0.0118},{"p":"c","s":"none","d":190,"v":0.0085},{"p":"c","s":"none","d":200,"v":0.0058},{"p":"c","s":"none","d":210,"v":0.0039},{"p":"c","s":"none","d":220,"v":0.0026},{"p":"c","s":"none","d":240,"v":0.0012},{"p":"c","s":"none","d":260,"v":0.00055},{"p":"c","s":"none","d":280,"v":0.00028},{"p":"c","s":"none","d":300,"v":0.00015}
]
},
"concat": [
  {
   "width": 413.6, "height": 335,
   "data": {"name": "leg"},
   "view": {"stroke": null},
   "encoding": {
     "y": {"field": "lab", "type": "nominal", "scale": {"type": "point", "padding": 0, "domain": ["κ = 3.0","κ = 2.0","κ = 1.5","κ = 1.0","κ = 0.8","κ = 0.5","κ = 0.2","κ = 0.1","No clustering"], "range": [32.7, 322.7]}, "axis": null}
   },
   "layer": [
     {"mark": {"type": "rule", "strokeWidth": 3}, "encoding": {
        "x": {"datum": 0, "type": "quantitative", "scale": {"domain": [0, 1], "range": [20.3, 75.3]}, "axis": null},
        "x2": {"datum": 1},
        "color": {"field": "s", "type": "nominal", "scale": {"domain": ["3.0","2.0","2.0b","1.5","1.0","0.8","0.5","0.2","0.1","none"], "range": ["#ff0000","#0000ff","#0000ff","#ffff00","#008000","#ffa500","#800080","#808080","#ffc0cb","#000000"]}, "legend": null}}},
     {"mark": {"type": "text", "align": "left", "baseline": "middle", "dx": 20, "fontSize": 28, "font": "Liberation Serif", "color": "black"}, "encoding": {
        "x": {"datum": 1, "type": "quantitative"},
        "text": {"field": "lab"}}}
   ]
  },
  {
   "width": 413.6, "height": 335,
   "title": {"text": "a) Global prevalence, τ = 0"},
   "data": {"name": "prev"},
   "transform": [{"filter": "datum.p == 'a'"}],
   "encoding": {
     "x": {"field": "d", "type": "quantitative", "scale": {"domain": [-15, 315], "nice": false, "zero": false}, "axis": {"values": [0, 100, 200, 300], "title": "Days", "labelPadding": 9, "titlePadding": 4}},
     "y": {"field": "v", "type": "quantitative", "scale": {"domain": [0, 0.0215], "nice": false}, "axis": {"values": [0, 0.005, 0.01, 0.015, 0.02], "format": ".3f", "title": "Prevalence", "labelPadding": 11, "titlePadding": 12}},
     "color": {"field": "s", "type": "nominal", "scale": {"domain": ["3.0","2.0","2.0b","1.5","1.0","0.8","0.5","0.2","0.1","none"], "range": ["#ff0000","#0000ff","#0000ff","#ffff00","#008000","#ffa500","#800080","#808080","#ffc0cb","#000000"]}, "legend": null}
   },
   "layer": [
     {"transform": [{"filter": "datum.d >= 50"}], "mark": {"type": "line", "strokeWidth": 13, "strokeOpacity": 0.17, "interpolate": "monotone", "strokeCap": "butt", "strokeJoin": "round"}},
     {"mark": {"type": "line", "strokeWidth": 2.8, "interpolate": "monotone"}}
   ]
  },
  {
   "width": 413.6, "height": 335,
   "title": {"text": "b) Global prevalence, τ = 1/1000"},
   "data": {"name": "prev"},
   "transform": [{"filter": "datum.p == 'b'"}],
   "encoding": {
     "x": {"field": "d", "type": "quantitative", "scale": {"domain": [-15, 315], "nice": false, "zero": false}, "axis": {"values": [0, 100, 200, 300], "title": "Days", "labelPadding": 9, "titlePadding": 4}},
     "y": {"field": "v", "type": "quantitative", "scale": {"domain": [0, 0.0215], "nice": false}, "axis": {"values": [0, 0.005, 0.01, 0.015, 0.02], "format": ".3f", "title": "Prevalence", "labelPadding": 11, "titlePadding": 12}},
     "color": {"field": "s", "type": "nominal", "scale": {"domain": ["3.0","2.0","2.0b","1.5","1.0","0.8","0.5","0.2","0.1","none"], "range": ["#ff0000","#0000ff","#0000ff","#ffff00","#008000","#ffa500","#800080","#808080","#ffc0cb","#000000"]}, "legend": null}
   },
   "layer": [
     {"transform": [{"filter": "datum.d >= 50"}], "mark": {"type": "line", "strokeWidth": 13, "strokeOpacity": 0.17, "interpolate": "monotone", "strokeCap": "butt", "strokeJoin": "round"}},
     {"mark": {"type": "line", "strokeWidth": 2.8, "interpolate": "monotone"}}
   ]
  },
  {
   "width": 413.6, "height": 335,
   "title": {"text": "c) Global prevalence, τ = 1/100"},
   "data": {"name": "prev"},
   "transform": [{"filter": "datum.p == 'c'"}],
   "encoding": {
     "x": {"field": "d", "type": "quantitative", "scale": {"domain": [-15, 315], "nice": false, "zero": false}, "axis": {"values": [0, 100, 200, 300], "title": "Days", "labelPadding": 9, "titlePadding": 4}},
     "y": {"field": "v", "type": "quantitative", "scale": {"domain": [0, 0.0215], "nice": false}, "axis": {"values": [0, 0.005, 0.01, 0.015, 0.02], "format": ".3f", "title": "Prevalence", "labelPadding": 11, "titlePadding": 12}},
     "color": {"field": "s", "type": "nominal", "scale": {"domain": ["3.0","2.0","2.0b","1.5","1.0","0.8","0.5","0.2","0.1","none"], "range": ["#ff0000","#0000ff","#0000ff","#ffff00","#008000","#ffa500","#800080","#808080","#ffc0cb","#000000"]}, "legend": null}
   },
   "layer": [
     {"transform": [{"filter": "datum.d >= 50"}], "mark": {"type": "line", "strokeWidth": 13, "strokeOpacity": 0.17, "interpolate": "monotone", "strokeCap": "butt", "strokeJoin": "round"}},
     {"mark": {"type": "line", "strokeWidth": 2.8, "interpolate": "monotone"}}
   ]
  }
]
}
